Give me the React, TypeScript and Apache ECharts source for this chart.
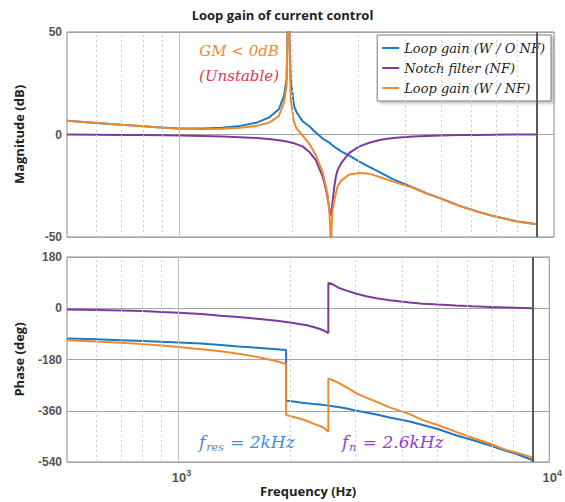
import React, { useEffect, useRef } from 'react';
import * as echarts from 'echarts';

// ---------- data ----------
const seriesNames = ['Loop gain (W / O NF)', 'Notch filter (NF)', 'Loop gain (W / NF)'];

const magFreq = [500, 600, 700, 800, 900, 1000, 1150, 1300, 1450, 1600, 1730, 1840, 1900, 1930, 1950, 1980, 2020, 2050, 2130, 2220, 2310, 2410, 2460, 2485, 2510, 2525, 2535, 2545, 2560, 2590, 2615, 2640, 2700, 2840, 3020, 3210, 3420, 3710, 4200, 4560, 5000, 5600, 6200, 6900, 7700, 8100, 9000];
const magLoop = [6.7, 5.6, 4.7, 4.0, 3.4, 2.9, 2.9, 3.3, 4.2, 5.7, 8.2, 12.3, 18.8, 27, 70, 27, 14, 11, 6.5, 4, 1, -2, -3, -3.5, -4, -4.3, -4.6, -4.9, -5.3, -6, -6.5, -7, -8.2, -10.3, -13.2, -15.8, -18.4, -21.8, -25.8, -28.6, -31.3, -34.8, -37.4, -39.8, -41.8, -42.6, -43.8];
const magNotch = [0, -0.1, -0.2, -0.3, -0.4, -0.5, -0.7, -1.0, -1.3, -1.7, -2.2, -2.8, -3.2, -3.4, -3.6, -3.9, -4.3, -4.7, -5.8, -8.5, -12.5, -20.5, -27, -31, -36, -38.5, -39.5, -37.5, -33, -25, -20.4, -17.5, -14, -9, -5.8, -4, -2.7, -1.7, -1.0, -0.7, -0.45, -0.3, -0.2, -0.1, -0.05, -0.03, 0];
const magLoopNF = [6.7, 5.6, 4.7, 4.0, 3.3, 2.8, 2.6, 2.8, 3.3, 4.2, 5.7, 9.0, 15.5, 23.7, 70, 17, 6, 3.0, -0.5, -4.5, -10, -18.5, -25.5, -29.5, -37, -46, -80, -45, -37, -32, -28.5, -25.5, -22.5, -19.5, -18.8, -19.1, -20.7, -23, -26, -28.8, -31.4, -34.9, -37.5, -39.9, -41.9, -42.7, -43.8];

const phaseFreq = [500, 600, 700, 800, 900, 1000, 1150, 1300, 1450, 1600, 1730, 1840, 1950, 1950, 2020, 2130, 2220, 2310, 2410, 2460, 2535, 2535, 2600, 2700, 2840, 3020, 3210, 3420, 3710, 4200, 4560, 5000, 5600, 6200, 6900, 7700, 8100, 9000];
const phaseLoop = [-106, -109, -112, -115, -118, -120, -124, -129, -134, -138, -141, -144, -147, -325, -327, -331, -334, -336, -338, -340, -342, -342, -344, -347, -352, -360, -366, -373, -384, -398, -410, -424, -446, -463, -481, -502, -510, -533];
const phaseNotch = [-4.6, -6, -8, -10, -13, -16, -20, -26, -31, -36, -40, -44, -48, -48, -51, -56, -60, -66, -73, -78, -87, 89, 85, 72, 62, 51, 42, 35, 28, 20, 16, 13, 9.4, 7, 4.7, 2.5, 1.8, 0];
const phaseLoopNF = [-112, -117, -121, -126, -131, -136, -144, -151, -160, -169, -178, -186, -196, -375, -380, -388, -396, -405, -414, -419, -434, -247, -252, -262, -278, -299, -314, -329, -348, -372, -393, -410, -434, -455, -475, -499, -506, -524];

const minorGridFreq = [600, 700, 800, 900, 2000, 3000, 4000, 5000, 6000, 7000, 8000];
const majorGridFreq = [1000];
const endGridFreq = [9000];
const decadeLabels: Record<string, string> = { '1000': '3', '10000': '4' };

const colors = ['#1f78c4', '#7e3a9e', '#ee8a2e'];
const SERIF = 'DejaVu Serif';

const pairs = (xs: number[], ys: number[]) => xs.map((x, i) => [x, ys[i]]);

const gridLines = () => ({
  silent: true,
  symbol: 'none',
  label: { show: false },
  animation: false,
  data: [
    ...minorGridFreq.map((f) => ({ xAxis: f, lineStyle: { color: '#cfcfcf', type: [2, 3], width: 1 } })),
    ...majorGridFreq.map((f) => ({ xAxis: f, lineStyle: { color: '#c2c2c2', type: 'solid', width: 1 } })),
    ...endGridFreq.map((f) => ({ xAxis: f, lineStyle: { color: '#5a5a5a', type: 'solid', width: 2 } })),
  ],
});

const axisLabelStyle = { color: '#555', fontWeight: 'bold' as const, fontSize: 12, fontFamily: 'Liberation Sans' };
const nameStyle = { color: '#222', fontWeight: 'bold' as const, fontSize: 13, fontFamily: 'Open Sans' };

const richSerif = (color: string, size: number) => ({ color, fill: color, fontFamily: SERIF, fontStyle: 'italic', fontSize: size });

export default function App() {
  const ref = useRef<HTMLDivElement>(null);
  useEffect(() => {
    if (!ref.current) return;
    const chart = echarts.init(ref.current, null, { renderer: 'svg' });
    const xBase = {
      type: 'log',
      logBase: 10,
      min: 500,
      max: 10000,
      axisTick: { show: false },
      axisLine: { show: false },
      splitLine: { show: false },
    };
    const lineSeries = (name: string, idx: number, data: number[][], axis: number) => ({
      type: 'line',
      name,
      xAxisIndex: axis,
      yAxisIndex: axis,
      data,
      showSymbol: false,
      symbol: 'none',
      clip: true,
      z: 3,
      color: colors[idx],
      lineStyle: { color: colors[idx], width: 2 },
    });
    const option: any = {
      animation: false,
      backgroundColor: '#fff',
      title: {
        text: 'Loop gain of current control',
        left: 'center',
        top: 3,
        textStyle: { ...nameStyle, fontSize: 13 },
      },
      legend: {
        data: seriesNames,
        orient: 'vertical',
        right: 14,
        top: 35,
        icon: 'rect',
        itemWidth: 17,
        itemHeight: 2,
        itemGap: 4,
        padding: [5, 6, 5, 5],
        borderColor: '#7a7a7a',
        borderWidth: 1,
        backgroundColor: '#fff',
        shadowColor: 'rgba(0,0,0,0.25)',
        shadowBlur: 3,
        shadowOffsetX: 2,
        shadowOffsetY: 2,
        textStyle: { fontFamily: SERIF, fontStyle: 'italic', fontSize: 13, color: '#222', lineHeight: 16 },
      },
      grid: [
        { left: 67, right: 11, top: 32, height: 205, show: true, borderColor: '#8c8c8c', borderWidth: 1, backgroundColor: '#fff' },
        { left: 67, right: 11, top: 257, height: 205, show: true, borderColor: '#8c8c8c', borderWidth: 1, backgroundColor: '#fff' },
      ],
      xAxis: [
        { ...xBase, gridIndex: 0, axisLabel: { show: false } },
        {
          ...xBase,
          gridIndex: 1,
          name: 'Frequency (Hz)',
          nameLocation: 'middle',
          nameGap: 22,
          nameTextStyle: nameStyle,
          axisLabel: {
            margin: 6,
            showMinLabel: false,
            formatter: (v: number) => {
              for (const k of Object.keys(decadeLabels)) {
                if (Math.abs(v - Number(k)) < 1) return `{p|}{b|10}{s|${decadeLabels[k]}}`;
              }
              return '';
            },
            rich: {
              p: { width: 6 },
              b: { ...axisLabelStyle, fontSize: 13 },
              s: { ...axisLabelStyle, fontSize: 9, verticalAlign: 'bottom', padding: [0, 0, 9, 0] },
            },
          },
        },
      ],
      yAxis: [
        {
          type: 'value',
          gridIndex: 0,
          min: -50,
          max: 50,
          interval: 50,
          name: 'Magnitude (dB)',
          nameLocation: 'middle',
          nameRotate: 90,
          nameGap: 42,
          nameTextStyle: nameStyle,
          axisLabel: { ...axisLabelStyle, margin: 5 },
          axisLine: { show: false },
          axisTick: { show: false },
          splitLine: { show: true, lineStyle: { color: '#a4a4a4', width: 1 } },
        },
        {
          type: 'value',
          gridIndex: 1,
          min: -540,
          max: 180,
          interval: 180,
          name: 'Phase (deg)',
          nameLocation: 'middle',
          nameRotate: 90,
          nameGap: 42,
          nameTextStyle: nameStyle,
          axisLabel: { ...axisLabelStyle, margin: 5 },
          axisLine: { show: false },
          axisTick: { show: false },
          splitLine: { show: true, lineStyle: { color: '#a4a4a4', width: 1 } },
        },
      ],
      series: [
        { type: 'line', name: '_grid0', xAxisIndex: 0, yAxisIndex: 0, data: [], z: 1, silent: true, markLine: gridLines() },
        { type: 'line', name: '_grid1', xAxisIndex: 1, yAxisIndex: 1, data: [], z: 1, silent: true, markLine: gridLines() },
        lineSeries(seriesNames[0], 0, pairs(magFreq, magLoop), 0),
        lineSeries(seriesNames[1], 1, pairs(magFreq, magNotch), 0),
        lineSeries(seriesNames[2], 2, pairs(magFreq, magLoopNF), 0),
        lineSeries(seriesNames[0], 0, pairs(phaseFreq, phaseLoop), 1),
        lineSeries(seriesNames[1], 1, pairs(phaseFreq, phaseNotch), 1),
        lineSeries(seriesNames[2], 2, pairs(phaseFreq, phaseLoopNF), 1),
      ],
      graphic: [
        {
          type: 'text', x: 239, y: 51, z: 10,
          style: { text: 'GM < 0dB', align: 'center', verticalAlign: 'middle', fill: '#ee8a2e', fontFamily: SERIF, fontStyle: 'italic', fontSize: 15 },
        },
        {
          type: 'text', x: 239, y: 76, z: 10,
          style: { text: '(Unstable)', align: 'center', verticalAlign: 'middle', fill: '#e0364c', fontFamily: SERIF, fontStyle: 'italic', fontSize: 15 },
        },
        {
          type: 'text', x: 199, y: 442, z: 10,
          style: {
            text: '{f|f}{s|res}{t| = 2kHz}', align: 'left', verticalAlign: 'middle',
            rich: {
              f: richSerif('#3b8fde', 17),
              s: { ...richSerif('#3b8fde', 11), verticalAlign: 'top', padding: [10, 1, 0, 1] },
              t: richSerif('#3b8fde', 17),
            },
          },
        },
        {
          type: 'text', x: 342, y: 442, z: 10,
          style: {
            text: '{f|f}{s|n}{t| = 2.6kHz}', align: 'left', verticalAlign: 'middle',
            rich: {
              f: richSerif('#8b3fd6', 17),
              s: { ...richSerif('#8b3fd6', 11), verticalAlign: 'top', padding: [10, 1, 0, 1] },
              t: richSerif('#8b3fd6', 17),
            },
          },
        },
      ],
    };
    chart.setOption(option);
    return () => chart.dispose();
  }, []);
  return <div ref={ref} style={{ position: 'fixed', left: 0, top: 0, width: 565, height: 502 }} />;
}
